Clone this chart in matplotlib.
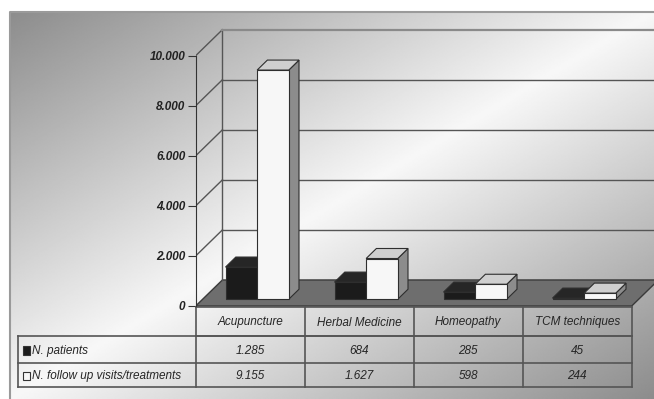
import numpy as np
import matplotlib
matplotlib.use("Agg")
import matplotlib.pyplot as plt
from matplotlib.patches import Polygon, Rectangle
from matplotlib import transforms

categories = ["Acupuncture", "Herbal Medicine", "Homeopathy", "TCM techniques"]
patients = [1285, 684, 285, 45]
followups = [9155, 1627, 598, 244]
series_names = ["N. patients", "N. follow up visits/treatments"]
yticks = [0, 2000, 4000, 6000, 8000, 10000]


def fmt(v):
    return f"{v:,}".replace(",", ".")


plt.rcParams["font.family"] = ["Liberation Sans", "DejaVu Sans"]

W, H = 654, 399
fig = plt.figure(figsize=(W / 100, H / 100), dpi=100)
fig.patch.set_facecolor("white")

# background (pixel coordinates)
bg = fig.add_axes([0, 0, 1, 1])
bg.set_xlim(0, W)
bg.set_ylim(H, 0)
bg.set_axis_off()
xx, yy = np.meshgrid(np.linspace(0, 1, 500), np.linspace(0, 1, 300))
v = 0.97 - 0.42 * np.abs(xx + yy - 1.0)
bg.imshow(v, cmap="gray", vmin=0, vmax=1, extent=[9.5, W, H, 11.5], aspect="auto",
          interpolation="bilinear", zorder=0)
bg.plot([9.5, 9.5, W], [H, 11.5, 11.5], color="#9a9a9a", lw=1.5, zorder=1)

# main axes: x in category units, y in values
px0, py0, ppc, ppk = 195.7, 306.0, 109.0, 25.03  # layout
ax = fig.add_axes([px0 / W, 0, (W - px0) / W, (H - 12) / H])
ax.set_xlim(-0.5, -0.5 + (W - px0) / ppc)
ax.set_ylim((py0 - H) / ppk * 1000, (py0 - 12) / ppk * 1000)
ax.patch.set_alpha(0)
for s in ["top", "right", "bottom"]:
    ax.spines[s].set_visible(False)
ax.spines["left"].set_bounds(0, 10000)
ax.spines["left"].set_color("#333333")
ax.set_yticks(yticks)
ax.set_yticklabels([fmt(t) for t in yticks], fontsize=8.5, fontweight="bold",
                   fontstyle="italic", color="#222222")
ax.tick_params(axis="y", direction="out", length=6, color="#333333", pad=1.5)
ax.set_xticks([])

n = len(categories)
dx, dy = 0.245, 1040.0
x_left, x_right = -0.5, n - 0.5
grid_c = "#555555"

# floor
ax.add_patch(Polygon([(x_left, 0), (x_right, 0), (x_right + dx, dy), (x_left + dx, dy)],
                     closed=True, facecolor="#6e6e6e", edgecolor="#3a3a3a", lw=1.0, zorder=1))
# back wall edges and grid
ax.plot([x_left + dx, x_left + dx], [dy, 10000 + dy], color=grid_c, lw=1.0, zorder=1)
for t in yticks[1:]:
    ax.plot([x_left, x_left + dx], [t, t + dy], color=grid_c, lw=1.0, zorder=1)
    ax.plot([x_left + dx, x_right + dx + 0.2], [t + dy, t + dy],
            color="#8a8a8a" if t == 10000 else grid_c, lw=1.6 if t == 10000 else 1.0, zorder=1)

# bars
frac = 0.26
sh, base = frac * dx, frac * dy
w = 0.29
bdx, bdy = 0.094, 400.0
styles = [
    dict(front="#1b1b1b", top="#262626", side="#111111"),
    dict(front="#f7f7f7", top="#cfcfcf", side="#8c8c8c"),
]
edge = "#2e2e2e"
for k, vals in enumerate([patients, followups]):
    st = styles[k]
    lefts = [i + sh - w + k * w for i in range(n)]
    z = 3 + 3 * k
    ax.bar(lefts, vals, width=w, bottom=base, align="edge", color=st["front"],
           edgecolor=edge, lw=0.8, zorder=z + 2)
    for xl, val in zip(lefts, vals):
        top = base + val
        xr = xl + w
        ax.add_patch(Polygon([(xr, base), (xr + bdx, base + bdy), (xr + bdx, top + bdy), (xr, top)],
                             closed=True, facecolor=st["side"], edgecolor=edge, lw=0.8, zorder=z))
        ax.add_patch(Polygon([(xl, top), (xr, top), (xr + bdx, top + bdy), (xl + bdx, top + bdy)],
                             closed=True, facecolor=st["top"], edgecolor=edge, lw=0.8, zorder=z + 1))

# data table (x in category units, y in pixels)
tr = transforms.blended_transform_factory(ax.transData, bg.transData)
line_c = "#555555"
rows_y = [307.0, 336.0, 362.5, 387.0]
lab_left = 18.3
tkw = dict(fontstyle="italic", color="#262626", fontsize=8.5)
# header row
for yv in rows_y[:2]:
    ax.plot([x_left, x_right], [yv, yv], transform=tr, color=line_c, lw=1.2, clip_on=False)
for j in range(n + 1):
    ax.plot([x_left + j, x_left + j], [rows_y[0], rows_y[-1]], transform=tr,
            color=line_c, lw=1.2, clip_on=False)
for j, c in enumerate(categories):
    ax.text(j, (rows_y[0] + rows_y[1]) / 2 + 1, c, transform=tr, ha="center", va="center",
            clip_on=False, **tkw)
# value rows (extend into label column)
lab_x_data = x_left - (px0 - lab_left) / ppc
for yv in rows_y[1:]:
    ax.plot([lab_x_data, x_right], [yv, yv], transform=tr, color=line_c, lw=1.2, clip_on=False)
ax.plot([lab_x_data, lab_x_data], [rows_y[1], rows_y[-1]], transform=tr, color=line_c,
        lw=1.2, clip_on=False)
for r, vals in enumerate([patients, followups]):
    yc = (rows_y[r + 1] + rows_y[r + 2]) / 2 + 1.5
    for j, val in enumerate(vals):
        ax.text(j, yc, fmt(val), transform=tr, ha="center", va="center", clip_on=False, **tkw)
    # legend key square
    bg.add_patch(Rectangle((22.5, yc - 4.5), 7, 8.5, facecolor=styles[r]["front"],
                           edgecolor="#333333", lw=0.8, zorder=5))
    bg.text(32.5, yc, series_names[r], ha="left", va="center", zorder=5, **tkw)

fig.savefig("out.png", dpi=100)
